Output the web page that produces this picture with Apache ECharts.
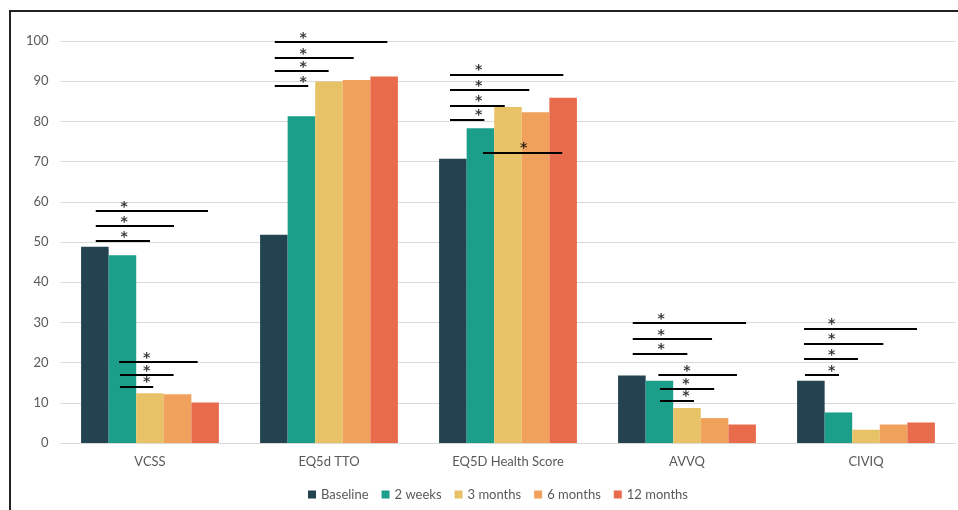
<!DOCTYPE html>
<html><head><meta charset="utf-8">
<script src="https://cdn.jsdelivr.net/npm/echarts@6/dist/echarts.min.js"></script>
<style>html,body{margin:0;padding:0;background:#fff}#c{width:958px;height:510px}</style>
</head><body><div id="c"></div>
<script>
const categories = ['VCSS', 'EQ5d TTO', 'EQ5D Health Score', 'AVVQ', 'CIVIQ'];
const seriesNames = ['Baseline', '2 weeks', '3 months', '6 months', '12 months'];
const baseline = [48.8, 51.8, 70.7, 16.8, 15.5];
const weeks2 = [46.7, 81.3, 78.3, 15.5, 7.6];
const months3 = [12.4, 89.9, 83.6, 8.7, 3.3];
const months6 = [12.1, 90.3, 82.3, 6.2, 4.6];
const months12 = [10.1, 91.2, 85.9, 4.6, 5.1];
const yTicks = [0, 10, 20, 30, 40, 50, 60, 70, 80, 90, 100];
// significance bars: [xStart, xEnd, y, starX] in category-span units (category i spans i..i+1)
const sigBars = [
  [0.197, 0.824, 57.7, 0.355], [0.197, 0.634, 54.0, 0.355], [0.197, 0.500, 50.2, 0.355],
  [0.327, 0.766, 20.1, 0.482], [0.332, 0.632, 16.9, 0.482], [0.332, 0.518, 14.1, 0.482],
  [1.197, 1.826, 99.7, 1.355], [1.197, 1.638, 95.8, 1.355], [1.197, 1.498, 92.5, 1.355], [1.197, 1.384, 88.8, 1.355],
  [2.176, 2.809, 91.6, 2.336], [2.176, 2.619, 87.8, 2.336], [2.176, 2.482, 84.0, 2.336], [2.176, 2.368, 80.5, 2.336],
  [2.360, 2.803, 72.3, 2.588],
  [3.197, 3.830, 29.8, 3.355], [3.197, 3.640, 25.9, 3.355], [3.197, 3.502, 22.3, 3.355],
  [3.340, 3.779, 16.9, 3.500], [3.349, 3.652, 13.6, 3.494], [3.349, 3.539, 10.6, 3.494],
  [4.154, 4.785, 28.4, 4.308], [4.154, 4.597, 24.7, 4.308], [4.154, 4.455, 20.9, 4.308], [4.159, 4.349, 16.9, 4.308]
];
const colors = ['#22434F', '#1B9E8A', '#E8C267', '#F0A15C', '#E86C4C'];
const values = [baseline, weeks2, months3, months6, months12];

const font = 'Lato, "Open Sans", sans-serif';
const chart = echarts.init(document.getElementById('c'), null, {renderer: 'canvas'});
const barSeries = seriesNames.map((n, i) => ({
  name: n, type: 'bar', data: values[i], xAxisIndex: 0, yAxisIndex: 0,
  barGap: '0%', barCategoryGap: '23%', itemStyle: {color: colors[i]}, z: 2
}));
chart.setOption({
  animation: false,
  color: colors,
  textStyle: {fontFamily: font},
  graphic: [{type: 'rect', shape: {x: 10, y: 11, width: 1000, height: 1000},
    style: {fill: 'none', stroke: '#222', lineWidth: 2}, silent: true}],
  grid: {left: 60.5, right: 2.5, top: 41, bottom: 67},
  legend: {
    data: seriesNames, left: 303, top: 483, itemWidth: 8, itemHeight: 8, itemGap: 13,
    icon: 'rect', textStyle: {color: '#595959', fontSize: 13, fontFamily: font}
  },
  xAxis: [{
    type: 'category', data: categories,
    axisLine: {lineStyle: {color: '#D9D9D9'}}, axisTick: {show: false},
    axisLabel: {color: '#595959', fontSize: 13, margin: 12, fontFamily: font}
  }, {
    type: 'value', min: 0, max: 5, show: false
  }],
  yAxis: {
    type: 'value', min: 0, max: 100, interval: 10,
    axisLine: {show: false}, axisTick: {show: false},
    splitLine: {lineStyle: {color: '#D9D9D9'}},
    axisLabel: {color: '#595959', fontSize: 13, margin: 12, fontFamily: font,
      formatter: v => yTicks.includes(v) ? String(v) : ''}
  },
  series: barSeries.concat([{
    type: 'lines', coordinateSystem: 'cartesian2d', xAxisIndex: 1, yAxisIndex: 0,
    polyline: false, silent: true, z: 5,
    lineStyle: {color: '#000', width: 2, opacity: 1},
    data: sigBars.map(b => ({coords: [[b[0], b[2]], [b[1], b[2]]]}))
  }, {
    type: 'scatter', xAxisIndex: 1, yAxisIndex: 0, symbolSize: 0, silent: true, z: 6,
    data: sigBars.map(b => [b[3], b[2]]),
    label: {show: true, formatter: '*', position: 'top', distance: -3,
      color: '#000', fontSize: 14, fontWeight: 'bold', fontFamily: 'DejaVu Sans'}
  }])
});
</script></body></html>
